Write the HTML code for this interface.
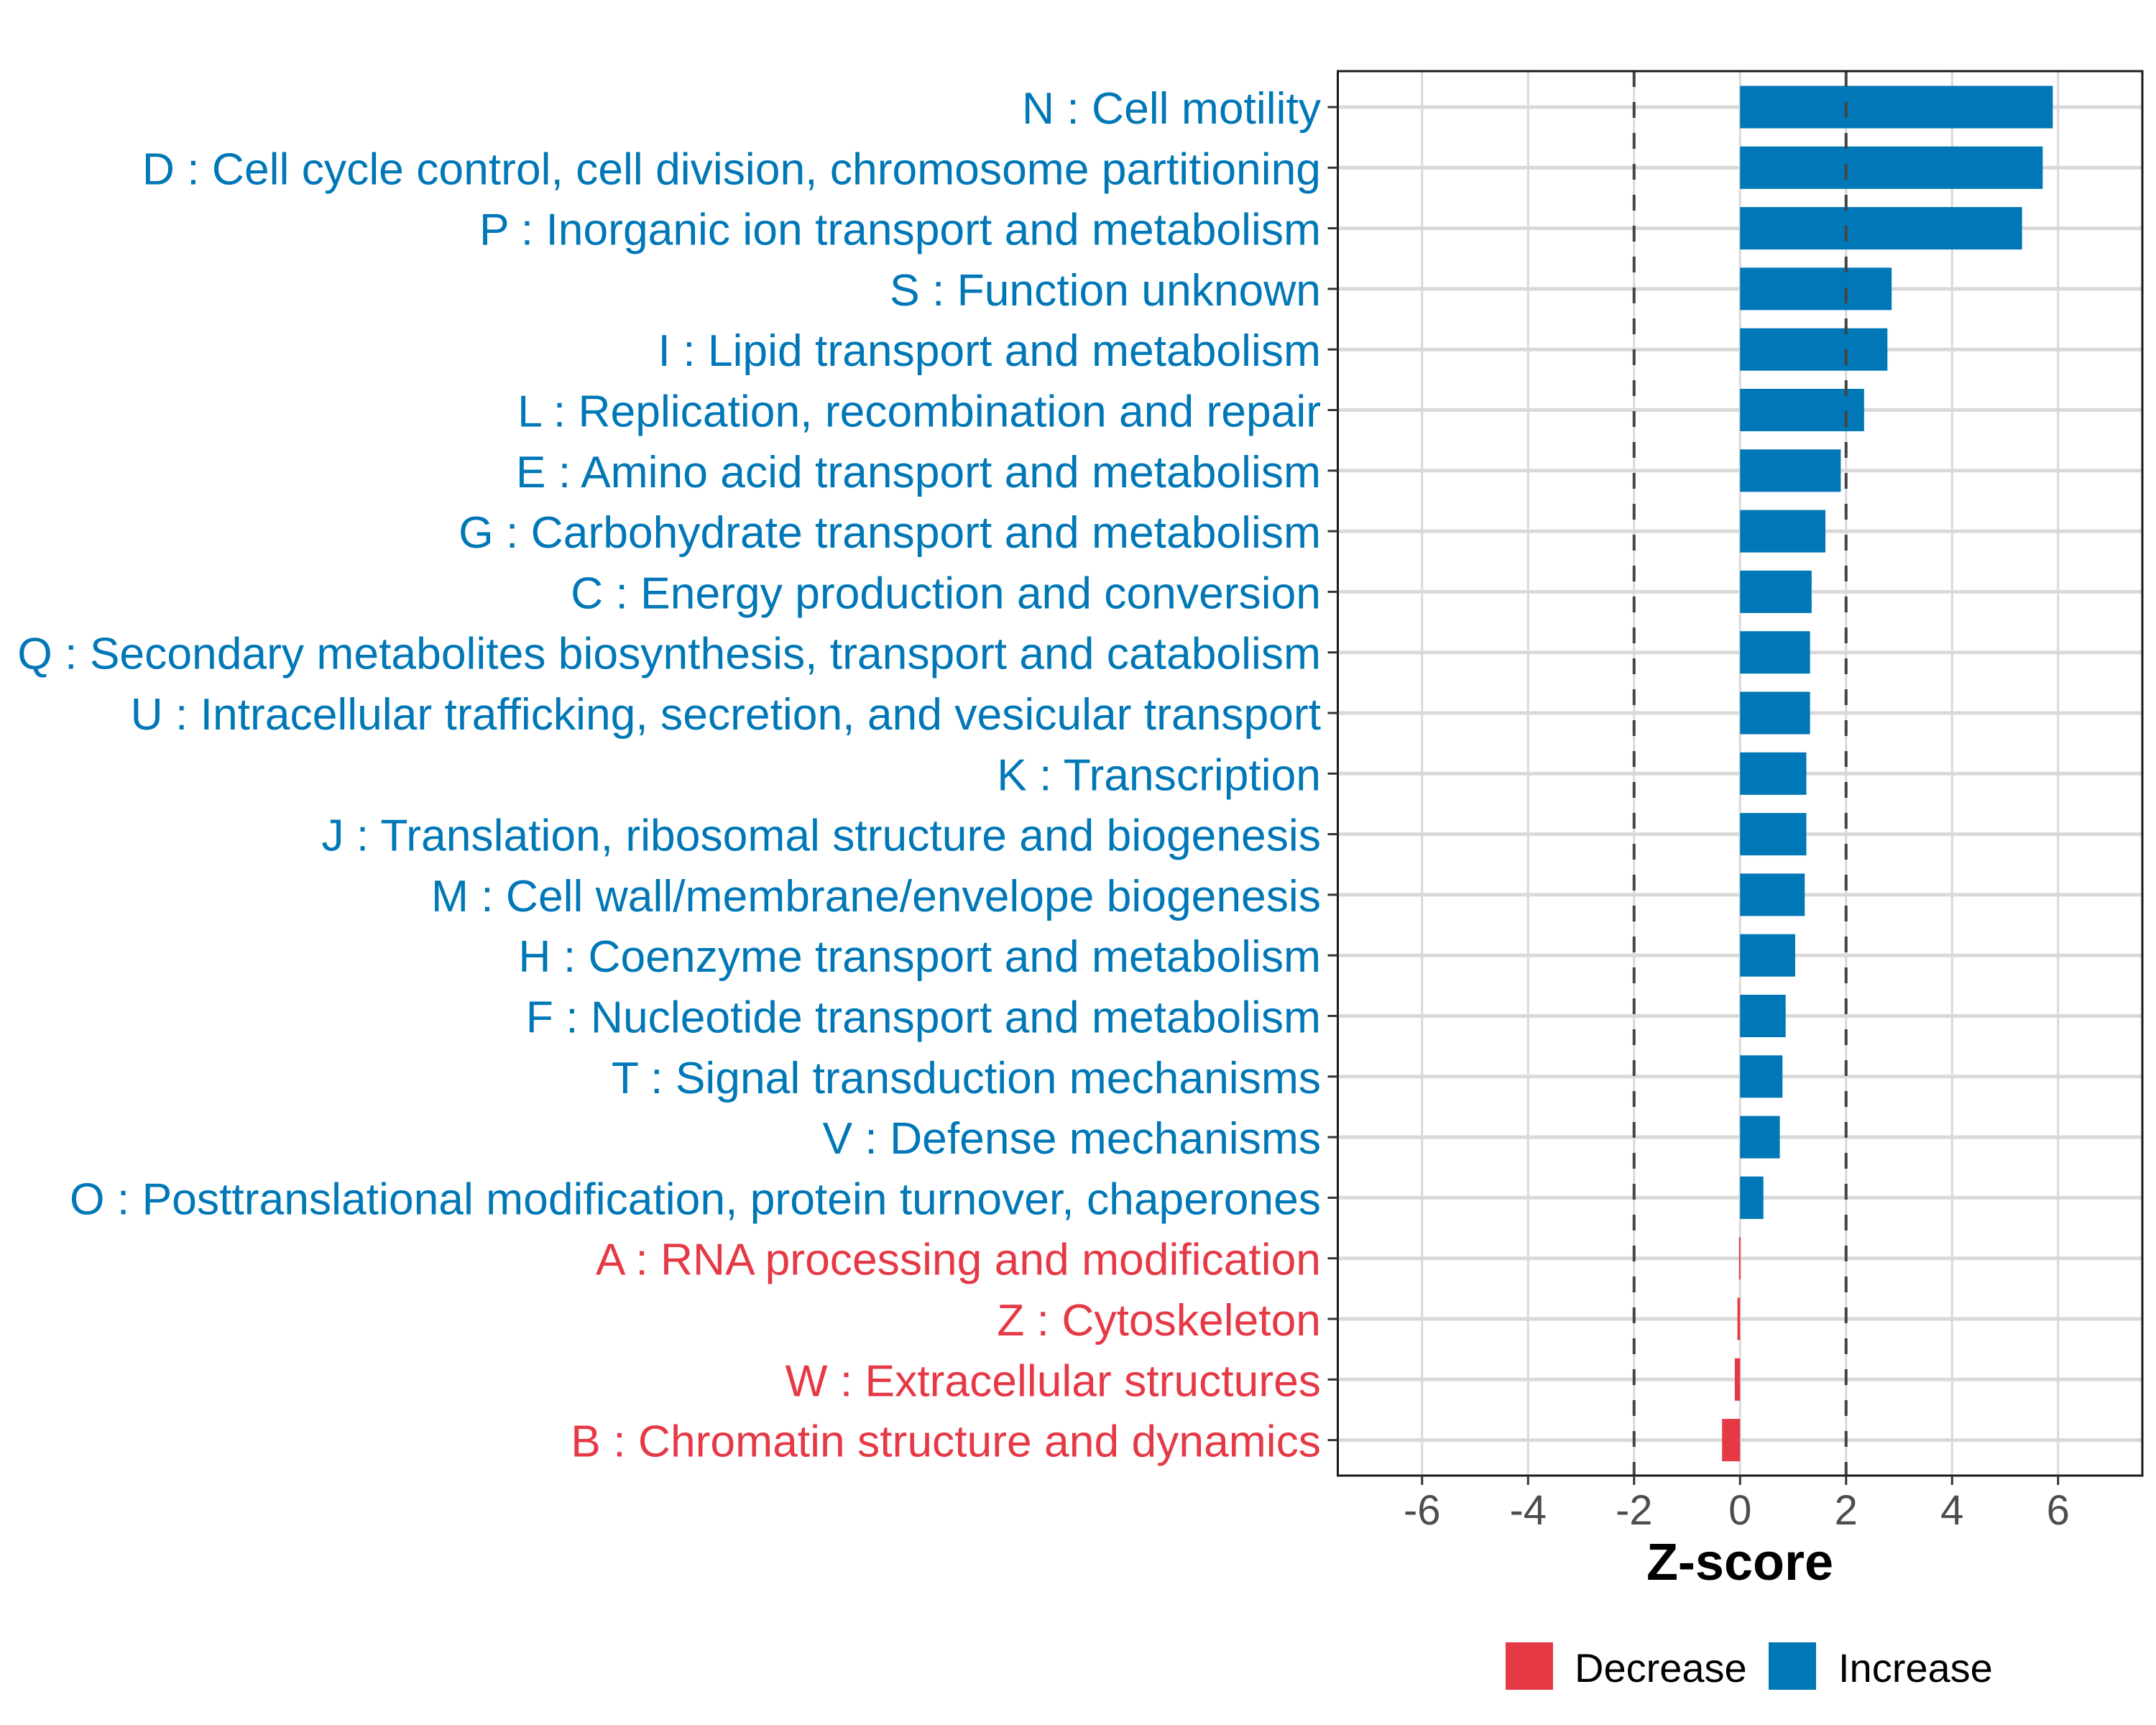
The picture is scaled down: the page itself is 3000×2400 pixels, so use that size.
<!DOCTYPE html>
<html><head><meta charset="utf-8"><style>
html,body{margin:0;padding:0;background:#fff;}
svg{display:block;font-family:"Liberation Sans",Arial,sans-serif;}
</style></head><body>
<svg id="chart" width="3000" height="2400" viewBox="0 0 3000 2400" xmlns="http://www.w3.org/2000/svg">
<rect width="3000" height="2400" fill="#fff"/>
<g id="grid"></g>
<g id="bars"></g>
<g id="refs"></g>
<rect x="1861.5" y="99" width="1119.5" height="1954" fill="none" stroke="#1a1a1a" stroke-width="3"/>
<g id="ylabels"></g>
<g id="xticks"></g>
<text x="2421" y="2198" font-size="72" font-weight="bold" text-anchor="middle" fill="#000">Z-score</text>
<g>
<rect x="2095" y="2285" width="66" height="66" fill="#e63946"/>
<text x="2191" y="2340" font-size="56" fill="#000">Decrease</text>
<rect x="2461" y="2285" width="66" height="66" fill="#0077b6"/>
<text x="2558" y="2340" font-size="56" fill="#000">Increase</text>
</g>
</svg>
<script>
const categories = ["N : Cell motility","D : Cell cycle control, cell division, chromosome partitioning","P : Inorganic ion transport and metabolism","S : Function unknown","I : Lipid transport and metabolism","L : Replication, recombination and repair","E : Amino acid transport and metabolism","G : Carbohydrate transport and metabolism","C : Energy production and conversion","Q : Secondary metabolites biosynthesis, transport and catabolism","U : Intracellular trafficking, secretion, and vesicular transport","K : Transcription","J : Translation, ribosomal structure and biogenesis","M : Cell wall/membrane/envelope biogenesis","H : Coenzyme transport and metabolism","F : Nucleotide transport and metabolism","T : Signal transduction mechanisms","V : Defense mechanisms","O : Posttranslational modification, protein turnover, chaperones","A : RNA processing and modification","Z : Cytoskeleton","W : Extracellular structures","B : Chromatin structure and dynamics"];
const zscores = [5.9,5.71,5.32,2.86,2.78,2.34,1.9,1.61,1.35,1.32,1.32,1.25,1.25,1.22,1.04,0.86,0.8,0.75,0.44,-0.02,-0.05,-0.1,-0.34];
const xTicks = [-6,-4,-2,0,2,4,6];
const xTickLabels = ["-6","-4","-2","0","2","4","6"];
const refLines = [-2,2];

const NS="http://www.w3.org/2000/svg";
const L=1861.5,R=2981,T=99,B=2053,XMIN=-7.59,XMAX=7.59;
const x=v=>L+(v-XMIN)/(XMAX-XMIN)*(R-L);
const ROW0=149,STEP=84.3;
const y=i=>ROW0+i*STEP;
const BLUE="#0077b6",RED="#e63946";
function mk(tag,attrs,parent){const e=document.createElementNS(NS,tag);for(const k in attrs)e.setAttribute(k,attrs[k]);parent.appendChild(e);return e;}
const grid=document.getElementById('grid'),bars=document.getElementById('bars'),refs=document.getElementById('refs'),yl=document.getElementById('ylabels'),xt=document.getElementById('xticks');
xTicks.forEach((t,i)=>{
  const g=mk('line',{x1:x(t),x2:x(t),y1:T,y2:B,stroke:'#d9d9d9','stroke-width':3},grid);
  
  
  const tk=mk('line',{x1:x(t),x2:x(t),y1:B,y2:B+13,stroke:'#333','stroke-width':3},xt);
  
  
  const tl=mk('text',{x:x(t),y:2121,'font-size':58,'text-anchor':'middle',fill:'#4d4d4d'},xt);
  tl.textContent=xTickLabels[i];
  
  
});
categories.forEach((c,i)=>{
  const gl=mk('line',{x1:L,x2:R,y1:y(i),y2:y(i),stroke:'#d9d9d9','stroke-width':5},grid);
  
  
  const v=zscores[i],col=v<0?RED:BLUE,h=STEP*0.7;
  const r=mk('rect',{x:Math.min(x(0),x(v)),y:y(i)-h/2,width:Math.max(Math.abs(x(v)-x(0)),2),height:h,fill:col},bars);
  
  
  const tk=mk('line',{x1:L-14,x2:L,y1:y(i),y2:y(i),stroke:'#333','stroke-width':3},yl);
  
  
  const t=mk('text',{x:1838,y:y(i)+23,'font-size':62.4,'text-anchor':'end',fill:col},yl);
  t.textContent=c;
  
  
});
refLines.forEach(v=>{
  const l=mk('line',{x1:x(v),x2:x(v),y1:T,y2:B,stroke:'#444','stroke-width':4,'stroke-dasharray':'22 21'},refs);
  
  
});
</script>
</body></html>
